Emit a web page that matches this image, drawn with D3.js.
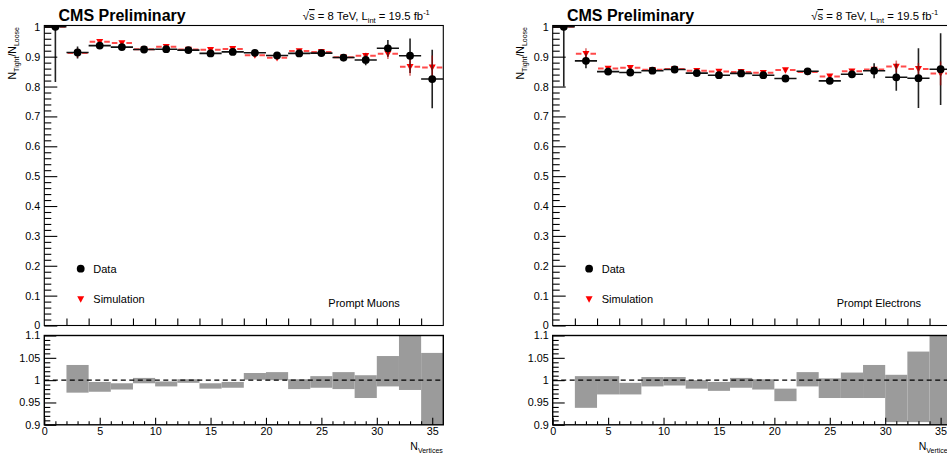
<!DOCTYPE html>
<html>
<head>
<meta charset="utf-8">
<script src="https://cdn.jsdelivr.net/npm/d3@7"></script>
<style>
  html, body { margin: 0; padding: 0; background: #fff; }
  svg { display: block; font-family: "Liberation Sans", Arial, Helvetica, sans-serif; color: #000; }
</style>
</head>
<body>
<svg id="chart" width="947" height="457"></svg>
<script>
// Tight-to-loose ratio versus number of reconstructed vertices (bins of width 2)
const binCenters = [1, 3, 5, 7, 9, 11, 13, 15, 17, 19, 21, 23, 25, 27, 29, 31, 33, 35];
const binHalfWidth = 1;

// Prompt muons
const muonData    = [1.000, 0.914, 0.937, 0.932, 0.924, 0.925, 0.922, 0.911, 0.916, 0.913, 0.904, 0.911, 0.912, 0.897, 0.889, 0.928, 0.903, 0.825];
const muonDataErr = [0.185, 0.020, 0.008, 0.007, 0.006, 0.006, 0.006, 0.007, 0.007, 0.007, 0.008, 0.009, 0.010, 0.012, 0.018, 0.028, 0.058, 0.098];
const muonSim     = [1.000, 0.912, 0.950, 0.946, 0.925, 0.933, 0.924, 0.923, 0.926, 0.905, 0.896, 0.919, 0.916, 0.898, 0.903, 0.910, 0.866, 0.864];
const muonSimErr  = [0.002, 0.015, 0.004, 0.004, 0.003, 0.003, 0.003, 0.003, 0.004, 0.004, 0.004, 0.005, 0.006, 0.007, 0.010, 0.018, 0.030, 0.040];
const muonRatioLow  = [null, 0.972, 0.974, 0.979, 0.993, 0.986, 0.994, 0.981, 0.983, 1.001, 1.000, 0.980, 0.983, 0.980, 0.960, 0.986, 0.978, 0.880];
const muonRatioHigh = [null, 1.034, 0.996, 0.993, 1.005, 0.997, 1.002, 0.993, 0.996, 1.016, 1.018, 1.002, 1.009, 1.018, 1.011, 1.054, 1.120, 1.061];

// Prompt electrons
const elecData    = [1.000, 0.886, 0.850, 0.847, 0.853, 0.857, 0.845, 0.838, 0.844, 0.838, 0.827, 0.851, 0.819, 0.841, 0.853, 0.831, 0.828, 0.858];
const elecDataErr = [0.200, 0.025, 0.007, 0.007, 0.006, 0.006, 0.006, 0.006, 0.007, 0.007, 0.008, 0.008, 0.009, 0.012, 0.025, 0.045, 0.100, 0.120];
const elecSim     = [1.000, 0.910, 0.860, 0.863, 0.856, 0.859, 0.853, 0.850, 0.849, 0.846, 0.855, 0.849, 0.834, 0.851, 0.857, 0.867, 0.859, 0.844];
const elecSimErr  = [0.002, 0.018, 0.005, 0.005, 0.004, 0.004, 0.004, 0.004, 0.005, 0.005, 0.006, 0.006, 0.007, 0.008, 0.010, 0.020, 0.020, 0.040];
const elecRatioLow  = [null, 0.938, 0.968, 0.968, 0.986, 0.988, 0.981, 0.976, 0.983, 0.979, 0.953, 0.986, 0.960, 0.960, 0.960, 0.906, 0.906, 0.880];
const elecRatioHigh = [null, 1.009, 1.009, 0.994, 1.007, 1.007, 1.000, 0.996, 1.005, 1.002, 0.981, 1.018, 1.004, 1.017, 1.034, 1.012, 1.064, 1.120];

// Axis ticks
const xDomain = [0, 36];
const topMajorTicks = [0, 0.1, 0.2, 0.3, 0.4, 0.5, 0.6, 0.7, 0.8, 0.9, 1];
const topTickLabels = ["0", "0.1", "0.2", "0.3", "0.4", "0.5", "0.6", "0.7", "0.8", "0.9", "1"];
const ratioMajorTicks = [0.9, 0.95, 1, 1.05, 1.1];
const ratioTickLabels = ["0.9", "0.95", "1", "1.05", "1.1"];
const xMajorTicks = [0, 5, 10, 15, 20, 25, 30, 35];
const xTickLabels = ["0", "5", "10", "15", "20", "25", "30", "35"];

const panels = [
  { x0: 44.3, label: "Prompt Muons", data: muonData, dataErr: muonDataErr, sim: muonSim, simErr: muonSimErr, rLo: muonRatioLow, rHi: muonRatioHigh },
  { x0: 552.7, label: "Prompt Electrons", data: elecData, dataErr: elecDataErr, sim: elecSim, simErr: elecSimErr, rLo: elecRatioLow, rHi: elecRatioHigh }
];

const svg = d3.select("#chart");
const defs = svg.append("defs");

const PW = 399;               // frame width
const topY0 = 325.5, topY1 = 25.5;
const ratY0 = 424.8, ratY1 = 335.5;
const RED = "#ff2a2a";

function triPath(s) {
  return `M${-s},${-s * 0.8}L${s},${-s * 0.8}L0,${s * 1.05}Z`;
}

panels.forEach((p, pi) => {
  const x = d3.scaleLinear().domain(xDomain).range([p.x0, p.x0 + PW]);
  const y = d3.scaleLinear().domain([0, 1]).range([topY0, 26.8]);
  const yr = d3.scaleLinear().domain([0.9, 1.1]).range([ratY0, ratY1]);

  const g = svg.append("g");

  // clip paths for the two frames
  defs.append("clipPath").attr("id", "clipTop" + pi)
    .append("rect").attr("x", p.x0).attr("y", topY1).attr("width", PW).attr("height", topY0 - topY1);
  defs.append("clipPath").attr("id", "clipRat" + pi)
    .append("rect").attr("x", p.x0).attr("y", ratY1).attr("width", PW).attr("height", ratY0 - ratY1);

  // ---------- upper pad ----------
  const top = g.append("g").attr("clip-path", `url(#clipTop${pi})`);
  const idx = d3.range(binCenters.length);

  // simulation: horizontal bars with a gap around the marker
  const gap = 4.5;
  top.selectAll(".simH").data(idx).join("path")
    .attr("d", i => {
      const xc = x(binCenters[i]), yy = y(p.sim[i]);
      return `M${x(binCenters[i] - binHalfWidth) + 1},${yy}H${xc - gap}M${xc + gap},${yy}H${x(binCenters[i] + binHalfWidth) - 1}`;
    })
    .attr("stroke", RED).attr("stroke-width", 2).attr("fill", "none").attr("opacity", 0.85);
  top.selectAll(".simM").data(idx).join("path")
    .attr("d", triPath(3.5))
    .attr("transform", i => `translate(${x(binCenters[i])},${y(p.sim[i])})`)
    .attr("fill", "#ff0000");

  // data: error bars + markers
  top.selectAll(".datH").data(idx).join("line")
    .attr("x1", i => x(binCenters[i] - binHalfWidth)).attr("x2", i => x(binCenters[i] + binHalfWidth))
    .attr("y1", i => y(p.data[i])).attr("y2", i => y(p.data[i]))
    .attr("stroke", "#111").attr("stroke-width", 1.6);
  top.selectAll(".datV").data(idx).join("line")
    .attr("x1", i => x(binCenters[i])).attr("x2", i => x(binCenters[i]))
    .attr("y1", i => y(p.data[i] + p.dataErr[i])).attr("y2", i => y(p.data[i] - p.dataErr[i]))
    .attr("stroke", "#222").attr("stroke-width", 1.6);
  top.selectAll(".simV").data(idx).join("line")
    .attr("x1", i => x(binCenters[i])).attr("x2", i => x(binCenters[i]))
    .attr("y1", i => y(p.sim[i] + p.simErr[i])).attr("y2", i => y(p.sim[i] - p.simErr[i]))
    .attr("stroke", "#c00000").attr("stroke-width", 1.6).attr("opacity", 0.55);
  top.selectAll(".datM").data(idx).join("circle")
    .attr("cx", i => x(binCenters[i])).attr("cy", i => y(p.data[i]))
    .attr("r", 3.9).attr("fill", "#000");

  // frame
  g.append("rect").attr("x", p.x0).attr("y", topY1).attr("width", PW).attr("height", topY0 - topY1)
    .attr("fill", "none").attr("stroke", "#000").attr("stroke-width", 1.1);

  // y axis of the upper pad
  const yMinor = d3.range(0, 1.0001, 0.02).filter(v => Math.abs(Math.round(v * 10) - v * 10) > 1e-6);
  g.append("g").attr("transform", `translate(${p.x0},0)`)
    .call(d3.axisLeft(y).tickValues(yMinor).tickSizeInner(-7).tickSizeOuter(0).tickFormat(""));
  g.append("g").attr("transform", `translate(${p.x0},0)`)
    .call(d3.axisLeft(y).tickValues(topMajorTicks).tickSizeInner(-13).tickSizeOuter(0).tickPadding(4)
      .tickFormat((d, i) => topTickLabels[i]));
  // x ticks of the upper pad (no labels)
  g.append("g").attr("transform", `translate(0,${topY0})`)
    .call(d3.axisBottom(x).tickValues(d3.range(2, 35, 2)).tickSizeInner(-7).tickSizeOuter(0).tickFormat(""));

  // legend
  g.append("circle").attr("cx", p.x0 + 36.4).attr("cy", 268.7).attr("r", 3.9).attr("fill", "#000");
  g.append("text").attr("x", p.x0 + 49).attr("y", 272.6).attr("font-size", 11).text("Data");
  g.append("path").attr("d", triPath(3.5)).attr("transform", `translate(${p.x0 + 36.4},299)`).attr("fill", "#ff0000");
  g.append("text").attr("x", p.x0 + 49).attr("y", 303.4).attr("font-size", 11).text("Simulation");
  g.append("text").attr("x", p.x0 + 284).attr("y", 306.6).attr("font-size", 11).text(p.label);

  // header
  g.append("text").attr("x", p.x0 + 14.2).attr("y", 20.6).attr("font-size", 16).attr("font-weight", "bold")
    .text("CMS Preliminary");
  const hdr = g.append("text").attr("x", p.x0 + 385.5).attr("y", 20).attr("font-size", 11.3).attr("text-anchor", "end");
  hdr.append("tspan").text("\u221A");
  hdr.append("tspan").attr("text-decoration", "overline").text("s");
  hdr.append("tspan").text(" = 8 TeV, L");
  hdr.append("tspan").attr("font-size", 7.5).attr("dy", 3).text("int");
  hdr.append("tspan").attr("dy", -3).text(" = 19.5 fb");
  hdr.append("tspan").attr("font-size", 7.5).attr("dy", -5).text("-1");

  // y title
  const yt = g.append("text").attr("transform", `translate(${p.x0 - 28.3},27) rotate(-90)`)
    .attr("text-anchor", "end").attr("font-size", 10.5);
  yt.append("tspan").text("N");
  yt.append("tspan").attr("font-size", 7).attr("dy", 2.5).text("Tight");
  yt.append("tspan").attr("dy", -2.5).text("/N");
  yt.append("tspan").attr("font-size", 7).attr("dy", 2.5).text("Loose");

  // ---------- ratio pad ----------
  const rat = g.append("g").attr("clip-path", `url(#clipRat${pi})`);
  const ridx = idx.filter(i => p.rLo[i] !== null);
  rat.selectAll(".band").data(ridx).join("rect")
    .attr("x", i => x(binCenters[i] - binHalfWidth))
    .attr("width", i => x(binCenters[i] + binHalfWidth) - x(binCenters[i] - binHalfWidth))
    .attr("y", i => yr(p.rHi[i]))
    .attr("height", i => yr(p.rLo[i]) - yr(p.rHi[i]))
    .attr("fill", "#9b9b9b");
  rat.append("line").attr("x1", x(0)).attr("x2", x(36)).attr("y1", yr(1)).attr("y2", yr(1))
    .attr("stroke", "#000").attr("stroke-width", 1.4).attr("stroke-dasharray", "5,3.5");

  g.append("rect").attr("x", p.x0).attr("y", ratY1).attr("width", PW).attr("height", ratY0 - ratY1)
    .attr("fill", "none").attr("stroke", "#000").attr("stroke-width", 1.4);

  const rMinor = d3.range(0.9, 1.1001, 0.01).filter(v => Math.abs(Math.round(v * 20) - v * 20) > 1e-6);
  g.append("g").attr("transform", `translate(${p.x0},0)`)
    .call(d3.axisLeft(yr).tickValues(rMinor).tickSizeInner(-6).tickSizeOuter(0).tickFormat(""));
  g.append("g").attr("transform", `translate(${p.x0},0)`)
    .call(d3.axisLeft(yr).tickValues(ratioMajorTicks).tickSizeInner(-12).tickSizeOuter(0).tickPadding(4)
      .tickFormat((d, i) => ratioTickLabels[i]));
  g.append("g").attr("transform", `translate(0,${ratY0})`)
    .call(d3.axisBottom(x).tickValues(d3.range(1, 36).filter(v => v % 5 !== 0)).tickSizeInner(-3.5).tickSizeOuter(0).tickFormat(""));
  g.append("g").attr("class", "xlab").attr("transform", `translate(0,${ratY0})`)
    .call(d3.axisBottom(x).tickValues(xMajorTicks).tickSizeInner(-7).tickSizeOuter(0).tickPadding(3)
      .tickFormat((d, i) => xTickLabels[i]));

  // x title
  const xt = g.append("text").attr("x", p.x0 + 398.5).attr("y", 450).attr("text-anchor", "end").attr("font-size", 10.5);
  xt.append("tspan").text("N");
  xt.append("tspan").attr("font-size", 7).attr("dy", 2.8).text("Vertices");
});

// common axis styling
svg.selectAll(".domain").remove();
svg.selectAll(".tick line").attr("stroke", "#000").attr("stroke-width", 1.1);
svg.selectAll(".tick text").attr("fill", "#000").style("fill", "#000").attr("font-size", 10.8)
  .attr("font-family", "'Liberation Sans', Arial, sans-serif");
svg.selectAll(".xlab .tick text").attr("dy", "0.71em");
</script>
</body>
</html>
